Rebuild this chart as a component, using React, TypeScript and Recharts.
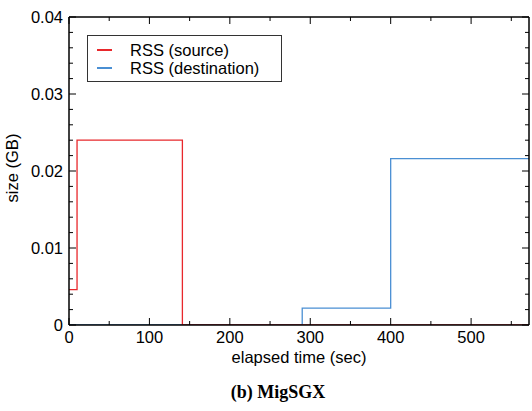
import { LineChart, Line, XAxis, YAxis } from "recharts";

// step points (time in sec, size in GB)
const sourceTimes = [0, 10, 141, 572];
const sourceSizes = [0.0046, 0.024, 0, 0];
const destTimes = [0, 290, 400, 572];
const destSizes = [0, 0.0022, 0.0216, 0.0216];

const xTicks = [0, 50, 100, 150, 200, 250, 300, 350, 400, 450, 500, 550];
const xLabels = [0, 100, 200, 300, 400, 500];
const yTicks = [
    0, 0.002, 0.004, 0.006, 0.008, 0.01, 0.012, 0.014, 0.016, 0.018, 0.02,
    0.022, 0.024, 0.026, 0.028, 0.03, 0.032, 0.034, 0.036, 0.038, 0.04,
];
const yLabels = ["0", "0.01", "0.02", "0.03", "0.04"];

const RED = "#e8282c";
const BLUE = "#4a8fd3";
const FONT = "'Liberation Sans', Arial, sans-serif";

const series = [
    { name: "RSS (source)", color: RED },
    { name: "RSS (destination)", color: BLUE },
];

const sourceData = sourceTimes.map((t, i) => ({ t, size: sourceSizes[i] }));
const destData = destTimes.map((t, i) => ({ t, size: destSizes[i] }));

const isMajorY = (v: number) => Math.abs(v * 100 - Math.round(v * 100)) < 1e-6;
const yText = (v: number) => yLabels[Math.round(v * 100)];

const BottomTick = (props: any) => {
    const { x, y, payload } = props;
    const major = xLabels.includes(payload.value);
    return (
        <g>
            <line x1={x} x2={x} y1={y} y2={y - (major ? 7 : 4)} stroke="#000" strokeWidth={1} />
            {major && (
                <text x={x} y={y + 18} textAnchor="middle" fontSize={16.5} fontFamily={FONT} fill="#000">
                    {payload.value}
                </text>
            )}
        </g>
    );
};

const TopTick = (props: any) => {
    const { x, y, payload } = props;
    const major = xLabels.includes(payload.value);
    return <line x1={x} x2={x} y1={y} y2={y + (major ? 7 : 4)} stroke="#000" strokeWidth={1} />;
};

const LeftTick = (props: any) => {
    const { x, y, payload } = props;
    const major = isMajorY(payload.value);
    return (
        <g>
            <line x1={x} x2={x + (major ? 7 : 4)} y1={y} y2={y} stroke="#000" strokeWidth={1} />
            {major && (
                <text x={x - 6} y={y + 6} textAnchor="end" fontSize={16.5} fontFamily={FONT} fill="#000">
                    {yText(payload.value)}
                </text>
            )}
        </g>
    );
};

const RightTick = (props: any) => {
    const { x, y, payload } = props;
    const major = isMajorY(payload.value);
    return <line x1={x} x2={x - (major ? 7 : 4)} y1={y} y2={y} stroke="#000" strokeWidth={1} />;
};

export default function App() {
    return (
        <div style={{ position: "absolute", left: 0, top: 0, width: 532, height: 411, background: "#fff" }}>
            <LineChart width={532} height={411} margin={{ top: 16, right: 2, left: 68, bottom: 85 }}>
                <XAxis
                    dataKey="t"
                    type="number"
                    domain={[0, 572]}
                    ticks={xTicks}
                    interval={0}
                    height={1}
                    tickSize={0}
                    tickMargin={0}
                    tick={<BottomTick />}
                    axisLine={{ stroke: "#000", strokeWidth: 1.5 }}
                    allowDataOverflow
                />
                <XAxis
                    xAxisId="top"
                    orientation="top"
                    dataKey="t"
                    type="number"
                    domain={[0, 572]}
                    ticks={xTicks}
                    interval={0}
                    height={1}
                    tickSize={0}
                    tickMargin={0}
                    tick={<TopTick />}
                    axisLine={{ stroke: "#000", strokeWidth: 1.5 }}
                    allowDataOverflow
                />
                <YAxis
                    type="number"
                    domain={[0, 0.04]}
                    ticks={yTicks}
                    interval={0}
                    width={1}
                    tickSize={0}
                    tickMargin={0}
                    tick={<LeftTick />}
                    axisLine={{ stroke: "#000", strokeWidth: 1.5 }}
                    allowDataOverflow
                />
                <YAxis
                    yAxisId="right"
                    orientation="right"
                    type="number"
                    domain={[0, 0.04]}
                    ticks={yTicks}
                    interval={0}
                    width={1}
                    tickSize={0}
                    tickMargin={0}
                    tick={<RightTick />}
                    axisLine={{ stroke: "#000", strokeWidth: 1.5 }}
                    allowDataOverflow
                />
                <Line
                    data={destData}
                    dataKey="size"
                    name={series[1].name}
                    type="stepAfter"
                    stroke={BLUE}
                    strokeWidth={1.3}
                    dot={false}
                    isAnimationActive={false}
                />
                <Line
                    data={sourceData}
                    dataKey="size"
                    name={series[0].name}
                    type="stepAfter"
                    stroke={RED}
                    strokeWidth={1.3}
                    dot={false}
                    isAnimationActive={false}
                />
            </LineChart>
            <div
                style={{
                    position: "absolute",
                    left: 87,
                    top: 35,
                    width: 195,
                    height: 47,
                    boxSizing: "border-box",
                    border: "1.5px solid #333",
                    background: "#fff",
                    paddingTop: 5,
                    fontFamily: FONT,
                    fontSize: 16.5,
                    lineHeight: "18px",
                }}
            >
                {series.map((s) => (
                    <div key={s.name} style={{ display: "flex", alignItems: "center" }}>
                        <span style={{ display: "inline-block", width: 15, height: 1.5, background: s.color, marginLeft: 9, marginRight: 18 }} />
                        <span>{s.name}</span>
                    </div>
                ))}
            </div>
            <div
                style={{
                    position: "absolute",
                    left: 12,
                    top: 168,
                    transform: "translate(-50%, -50%) rotate(-90deg)",
                    fontFamily: FONT,
                    fontSize: 16.5,
                    whiteSpace: "nowrap",
                }}
            >
                size (GB)
            </div>
            <div
                style={{
                    position: "absolute",
                    left: 69,
                    width: 460,
                    top: 348,
                    textAlign: "center",
                    fontFamily: FONT,
                    fontSize: 16.5,
                }}
            >
                elapsed time (sec)
            </div>
            <div
                style={{
                    position: "absolute",
                    left: 178,
                    width: 200,
                    top: 382,
                    textAlign: "center",
                    fontFamily: "'Liberation Serif', 'Times New Roman', serif",
                    fontWeight: "bold",
                    fontSize: 18,
                }}
            >
                (b) MigSGX
            </div>
        </div>
    );
}
